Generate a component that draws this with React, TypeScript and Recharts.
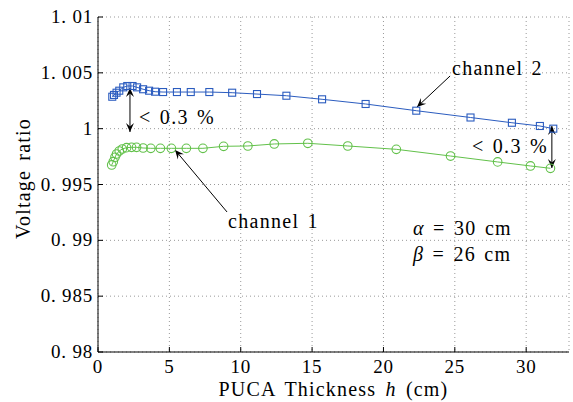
import React from 'react';
import {
  LineChart,
  Line,
  XAxis,
  YAxis,
  CartesianGrid,
  ReferenceLine,
  ReferenceDot,
} from 'recharts';

// thickness h (cm) and voltage ratio, channel 2 (squares)
const ch2H = [1.0, 1.12, 1.3, 1.49, 1.77, 2.05, 2.42, 2.74, 3.16, 3.58, 4.0, 4.56, 5.53, 6.5, 7.8, 9.4, 11.14, 13.2, 15.7, 18.75, 22.3, 26.1, 29.0, 30.96, 31.9];
const ch2V = [1.00286, 1.00302, 1.00322, 1.0034, 1.0037, 1.00382, 1.00382, 1.0037, 1.00353, 1.0034, 1.00331, 1.00328, 1.00328, 1.00328, 1.00328, 1.00322, 1.0031, 1.00295, 1.00263, 1.00221, 1.00161, 1.001, 1.00053, 1.00024, 1.0];

// channel 1 (circles)
const ch1H = [0.96, 1.07, 1.19, 1.3, 1.49, 1.7, 2.0, 2.35, 2.7, 3.16, 3.7, 4.37, 5.14, 6.19, 7.35, 8.8, 10.5, 12.35, 14.7, 17.5, 20.9, 24.7, 28.0, 30.3, 31.7];
const ch1V = [0.99675, 0.99704, 0.99744, 0.99773, 0.998, 0.99818, 0.9983, 0.99833, 0.99833, 0.99827, 0.99824, 0.99824, 0.99824, 0.99824, 0.99824, 0.99842, 0.99845, 0.99863, 0.99869, 0.99845, 0.99815, 0.99755, 0.99702, 0.99666, 0.99645];

const xTicks = [0, 5, 10, 15, 20, 25, 30];
const yTicks = [0.98, 0.985, 0.99, 0.995, 1, 1.005, 1.01];
const yTickLabels = ['0. 98', '0. 985', '0. 99', '0. 995', '1', '1. 005', '1. 01'];

const ch2 = ch2H.map((h, i) => ({ h, v: ch2V[i] }));
const ch1 = ch1H.map((h, i) => ({ h, v: ch1V[i] }));

const BLUE = '#2b5cbf';
const GREEN = '#62c14a';
const FONT = 'Liberation Serif';

const tickText = { fontFamily: FONT, fontSize: 19, letterSpacing: 0.8, fill: '#000' };
const labelText = { fontFamily: FONT, fontSize: 20, letterSpacing: 1.2, wordSpacing: 3, fill: '#000' };
const noteText = { fontFamily: FONT, fontSize: 20, letterSpacing: 1.3, wordSpacing: 2, fill: '#000' };

const BottomTick = (p: any) => (
  <g>
    <line x1={p.x} x2={p.x} y1={p.y} y2={p.y - 5} stroke="#000" />
    <text x={p.x} y={p.y + 21} textAnchor="middle" {...tickText}>
      {p.payload.value}
    </text>
  </g>
);

const LeftTick = (p: any) => {
  const idx = yTicks.findIndex((t) => Math.abs(t - p.payload.value) < 1e-9);
  return (
    <g>
      <line x1={p.x} x2={p.x + 5} y1={p.y} y2={p.y} stroke="#000" />
      <text x={p.x - 5} y={p.y + 6} textAnchor="end" {...tickText}>
        {yTickLabels[idx]}
      </text>
    </g>
  );
};

const TopTick = (p: any) => <line x1={p.x} x2={p.x} y1={p.y} y2={p.y + 5} stroke="#000" />;
const RightTick = (p: any) => <line x1={p.x} x2={p.x - 5} y1={p.y} y2={p.y} stroke="#000" />;

const head = (x: number, y: number, fx: number, fy: number) => {
  // arrow head pointing at (x, y), coming from (fx, fy)
  const a = Math.atan2(y - fy, x - fx);
  const L = 9;
  const W = 4;
  const bx = x - L * Math.cos(a);
  const by = y - L * Math.sin(a);
  const mx = x - L * 0.6 * Math.cos(a);
  const my = y - L * 0.6 * Math.sin(a);
  const px = -Math.sin(a) * W;
  const py = Math.cos(a) * W;
  return `${x},${y} ${bx + px},${by + py} ${mx},${my} ${bx - px},${by - py}`;
};

const Arrow = (both: boolean) => (p: any) => (
  <g>
    <line x1={p.x1} y1={p.y1} x2={p.x2} y2={p.y2} stroke="#000" strokeWidth={1} />
    <polygon points={head(p.x2, p.y2, p.x1, p.y1)} fill="#000" />
    {both && <polygon points={head(p.x1, p.y1, p.x2, p.y2)} fill="#000" />}
  </g>
);

const Txt = (content: React.ReactNode) => (p: any) => (
  <text x={p.cx} y={p.cy + 6} {...noteText}>
    {content}
  </text>
);

const Square = (p: any) => (
  <rect key={`s${p.index}`} x={p.cx - 3.5} y={p.cy - 3.5} width={7} height={7} fill="none" stroke={BLUE} strokeWidth={1.1} />
);
const Circle = (p: any) => (
  <circle key={`c${p.index}`} cx={p.cx} cy={p.cy} r={4.3} fill="none" stroke={GREEN} strokeWidth={1.1} />
);

export default function App() {
  return (
    <div style={{ position: 'absolute', left: 0, top: 0, background: '#fff' }}>
      <LineChart width={573} height={402} margin={{ top: 17, right: 4, bottom: 0, left: 0 }}>
        <CartesianGrid stroke="#999" strokeDasharray="1 3" />
        <XAxis
          dataKey="h"
          type="number"
          domain={[0, 33]}
          ticks={xTicks}
          height={50}
          tickSize={0}
          tickMargin={0}
          tickLine={false}
          tick={<BottomTick />}
          axisLine={{ stroke: '#000' }}
          allowDuplicatedCategory={false}
          label={(lp: any) => {
            const vb = lp.viewBox;
            return (
              <text x={vb.x + vb.width / 2} y={vb.y + 44} textAnchor="middle" {...labelText}>
                PUCA Thickness <tspan fontStyle="italic">h</tspan> (cm)
              </text>
            );
          }}
        />
        <XAxis
          xAxisId="top"
          orientation="top"
          type="number"
          domain={[0, 33]}
          ticks={xTicks}
          height={0}
          tickSize={0}
          tickMargin={0}
          tickLine={false}
          tick={<TopTick />}
          axisLine={{ stroke: '#000' }}
        />
        <YAxis
          type="number"
          domain={[0.98, 1.01]}
          ticks={yTicks}
          width={98}
          tickSize={0}
          tickMargin={0}
          tickLine={false}
          tick={<LeftTick />}
          axisLine={{ stroke: '#000' }}
          label={(lp: any) => {
            const vb = lp.viewBox;
            const cx = 24;
            const cy = vb.y + vb.height / 2 - 6;
            return (
              <text x={cx} y={cy} transform={`rotate(-90 ${cx} ${cy})`} dy={6} textAnchor="middle" {...labelText}>
                Voltage ratio
              </text>
            );
          }}
        />
        <YAxis
          yAxisId="right"
          orientation="right"
          type="number"
          domain={[0.98, 1.01]}
          ticks={yTicks}
          width={0}
          tickSize={0}
          tickMargin={0}
          tickLine={false}
          tick={<RightTick />}
          axisLine={{ stroke: '#000' }}
        />
        <Line
          data={ch1}
          dataKey="v"
          stroke={GREEN}
          strokeWidth={1}
          dot={Circle}
          isAnimationActive={false}
          type="linear"
        />
        <Line
          data={ch2}
          dataKey="v"
          stroke={BLUE}
          strokeWidth={1}
          dot={Square}
          isAnimationActive={false}
          type="linear"
        />
        <ReferenceLine segment={[{ x: 24.67, y: 1.00472 }, { x: 22.35, y: 1.00194 }]} shape={Arrow(false)} />
        <ReferenceLine segment={[{ x: 9.04, y: 0.99254 }, { x: 5.4, y: 0.99809 }]} shape={Arrow(false)} />
        <ReferenceLine segment={[{ x: 2.24, y: 1.00364 }, { x: 2.24, y: 0.9997 }]} shape={Arrow(true)} />
        <ReferenceLine segment={[{ x: 31.8, y: 1.00024 }, { x: 31.8, y: 0.99648 }]} shape={Arrow(true)} />
        <ReferenceDot x={24.8} y={1.00534} r={0} shape={Txt('channel 2')} />
        <ReferenceDot x={9.11} y={0.99164} r={0} shape={Txt('channel 1')} />
        <ReferenceDot x={2.87} y={1.001} r={0} shape={Txt('< 0.3 %')} />
        <ReferenceDot x={26.2} y={0.99836} r={0} shape={Txt('< 0.3 %')} />
        <ReferenceDot
          x={22.07}
          y={0.99102}
          r={0}
          shape={Txt(<><tspan fontStyle="italic">α</tspan> = 30 cm</>)}
        />
        <ReferenceDot
          x={22.07}
          y={0.98869}
          r={0}
          shape={Txt(<><tspan fontStyle="italic">β</tspan> = 26 cm</>)}
        />
      </LineChart>
    </div>
  );
}
